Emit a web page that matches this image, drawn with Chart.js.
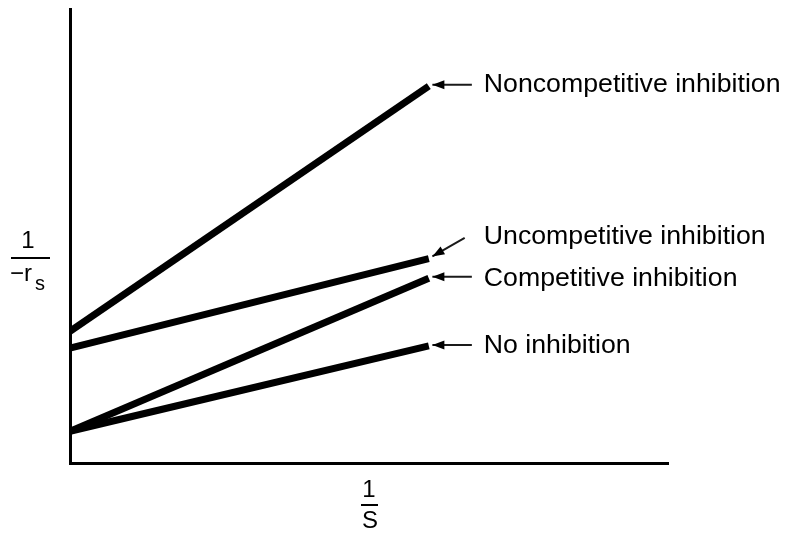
<!DOCTYPE html>
<html>
<head>
<meta charset="utf-8">
<script src="https://cdn.jsdelivr.net/npm/chart.js@4/dist/chart.umd.min.js"></script>
<style>
  html, body { margin: 0; padding: 0; background: #fff; }
  #wrap { width: 797px; height: 537px; }
</style>
</head>
<body>
<div id="wrap"><canvas id="chart"></canvas></div>
<script>
// Data (axes normalised 0..100, no units in the original)
const seriesNames = ['Noncompetitive inhibition', 'Uncompetitive inhibition', 'Competitive inhibition', 'No inhibition'];
const noncompetitive = [{ x: 0, y: 29 }, { x: 60, y: 83 }];
const uncompetitive = [{ x: 0, y: 25.3 }, { x: 60, y: 45 }];
const competitive = [{ x: 0, y: 7 }, { x: 60, y: 40.7 }];
const noInhibition = [{ x: 0, y: 7 }, { x: 60, y: 25.8 }];

// Pointer arrows (tail -> tip) and label anchors
const arrowNoncomp = [{ x: 67.2, y: 83.3 }, { x: 60.6, y: 83.3 }];
const arrowUncomp = [{ x: 66, y: 49.6 }, { x: 60.6, y: 45.5 }];
const arrowComp = [{ x: 67.2, y: 41 }, { x: 60.6, y: 41 }];
const arrowNone = [{ x: 67.2, y: 26 }, { x: 60.6, y: 26 }];
const labelX = 69.2;
const labelY = [83.3, 49.8, 40.6, 25.8];

const FONT = '"Liberation Sans", Arial, Helvetica, sans-serif';

function thick(label, data) {
    return { label, data, borderColor: '#000', borderWidth: 7, borderCapStyle: 'butt',
             pointRadius: 0, showLine: true, fill: false, tension: 0 };
}
function arrow(data) {
    return { label: 'arrow', arrow: true, data, borderColor: '#1a1a1a', borderWidth: 2,
             pointRadius: 0, showLine: true, fill: false, tension: 0 };
}

// arrowheads at the tip of each pointer
const arrowHeads = {
    id: 'arrowHeads',
    afterDatasetsDraw(chart) {
        const c = chart.ctx;
        chart.data.datasets.forEach((ds, i) => {
            if (!ds.arrow) return;
            const pts = chart.getDatasetMeta(i).data;
            const a = pts[0], b = pts[1];
            const ang = Math.atan2(b.y - a.y, b.x - a.x);
            const len = 12, half = 4.5;
            c.save();
            c.fillStyle = '#000';
            c.beginPath();
            c.moveTo(b.x, b.y);
            c.lineTo(b.x - len * Math.cos(ang) + half * Math.sin(ang), b.y - len * Math.sin(ang) - half * Math.cos(ang));
            c.lineTo(b.x - len * Math.cos(ang) - half * Math.sin(ang), b.y - len * Math.sin(ang) + half * Math.cos(ang));
            c.closePath();
            c.fill();
            c.restore();
        });
    }
};

// series labels and the fraction-style axis titles
const labels = {
    id: 'labels',
    afterDraw(chart) {
        const c = chart.ctx;
        const xs = chart.scales.x, ys = chart.scales.y;
        const area = chart.chartArea;
        c.save();
        c.fillStyle = '#000';
        c.font = '26.7px ' + FONT;
        c.textBaseline = 'middle';
        c.textAlign = 'left';
        seriesNames.forEach((name, i) => {
            c.fillText(name, xs.getPixelForValue(labelX), ys.getPixelForValue(labelY[i]));
        });

        // y title: 1 / -r_s
        c.font = '24px ' + FONT;
        c.textAlign = 'center';
        c.fillText('1', area.left - 42, 241);
        c.fillRect(area.left - 59, 257, 39, 2);
        c.textAlign = 'left';
        c.fillText('\u2212r', area.left - 60, 274);
        c.font = '20px ' + FONT;
        c.fillText('s', area.left - 35, 284);

        // x title: 1 / S
        const cx = xs.getPixelForValue(50);
        c.font = '24px ' + FONT;
        c.textAlign = 'center';
        c.fillText('1', cx, 490);
        c.fillRect(cx - 8, 504, 17, 2);
        c.fillText('S', cx + 1, 521);
        c.restore();
    }
};

const ctx = document.getElementById('chart').getContext('2d');
new Chart(ctx, {
    type: 'scatter',
    data: {
        datasets: [
            thick(seriesNames[0], noncompetitive),
            thick(seriesNames[1], uncompetitive),
            thick(seriesNames[2], competitive),
            thick(seriesNames[3], noInhibition),
            arrow(arrowNoncomp),
            arrow(arrowUncomp),
            arrow(arrowComp),
            arrow(arrowNone)
        ]
    },
    options: {
        responsive: true,
        maintainAspectRatio: false,
        animation: false,
        events: [],
        layout: { padding: { left: 70, right: 129, top: 9, bottom: 74 } },
        plugins: { legend: { display: false }, tooltip: { enabled: false } },
        scales: {
            x: {
                type: 'linear', min: 0, max: 100,
                grid: { display: false },
                border: { display: true, color: '#000', width: 3 },
                ticks: { display: false },
                afterFit(s) { s.height = 0; }
            },
            y: {
                type: 'linear', min: 0, max: 100,
                grid: { display: false },
                border: { display: true, color: '#000', width: 3 },
                ticks: { display: false },
                afterFit(s) { s.width = 0; }
            }
        }
    },
    plugins: [arrowHeads, labels]
});
</script>
</body>
</html>
